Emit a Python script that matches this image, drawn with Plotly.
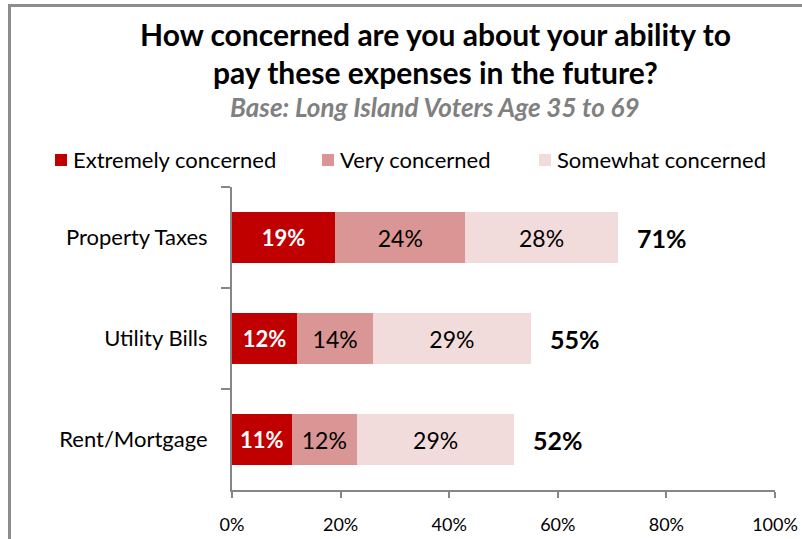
import plotly.graph_objects as go

# Survey results: share of respondents by level of concern
categories = ["Property Taxes", "Utility Bills", "Rent/Mortgage"]
series_names = ["Extremely concerned", "Very concerned", "Somewhat concerned"]
extremely = [19, 12, 11]
very = [24, 14, 12]
somewhat = [28, 29, 29]
totals = [71, 55, 52]
x_ticks = [0, 20, 40, 60, 80, 100]
x_tick_labels = ["0%", "20%", "40%", "60%", "80%", "100%"]

colors = ["#C00000", "#D99694", "#F2DCDB"]
label_colors = ["white", "black", "black"]
label_weights = ["bold", "normal", "normal"]
label_sizes = [22, 23, 23]
FONT = "Lato"
AXIS_GREY = "#868686"

W, H = 802, 539
L, R, T, B = 232, 775, 187, 490


def px(x):
    return (x - L) / (R - L)


def py(y):
    return (B - y) / (B - T)


fig = go.Figure()
for name, vals, col, lc, lw, ls in zip(series_names, [extremely, very, somewhat],
                                       colors, label_colors, label_weights, label_sizes):
    fig.add_trace(go.Bar(
        y=categories, x=vals, name=name, orientation="h",
        marker=dict(color=col, line=dict(width=0)),
        width=0.5,
        text=[f"{v}%" for v in vals],
        textposition="inside", insidetextanchor="middle",
        constraintext="none",
        textfont=dict(family=FONT, size=ls, color=lc, weight=lw),
        showlegend=False, hoverinfo="skip",
    ))

# Totals to the right of each stacked bar
for cat, tot in zip(categories, totals):
    fig.add_annotation(x=tot, y=cat, xref="x", yref="y", text=f"{tot}%",
                       showarrow=False, xanchor="left", xshift=17,
                       font=dict(family=FONT, size=25, color="black", weight="bold"))

# Title and subtitle
fig.add_annotation(x=px(435), y=py(34), xref="paper", yref="paper",
                   text="How concerned are you about your ability to",
                   showarrow=False, xanchor="center", yanchor="middle",
                   font=dict(family=FONT, size=30, color="black", weight="bold"))
fig.add_annotation(x=px(435), y=py(72), xref="paper", yref="paper",
                   text="pay these expenses in the future?",
                   showarrow=False, xanchor="center", yanchor="middle",
                   font=dict(family=FONT, size=30, color="black", weight="bold"))
fig.add_annotation(x=px(435), y=py(107), xref="paper", yref="paper",
                   text="<i>Base: Long Island Voters Age 35 to 69</i>",
                   showarrow=False, xanchor="center", yanchor="middle",
                   font=dict(family=FONT, size=26, color="#808080", weight="bold"))

# Legend built from the series names and colours
legend_x = [55, 322, 539]
for name, col, lx in zip(series_names, colors, legend_x):
    fig.add_shape(type="rect", xref="paper", yref="paper",
                  x0=px(lx), x1=px(lx + 12), y0=py(166), y1=py(154),
                  fillcolor=col, line=dict(width=0))
    fig.add_annotation(x=px(lx + 16), y=py(160), xref="paper", yref="paper",
                       text=name, showarrow=False, xanchor="left", yanchor="middle",
                       font=dict(family=FONT, size=22, color="black"))

# Outer frame (left and top edges)
fig.add_shape(type="path", xref="paper", yref="paper",
              path=f"M {px(9.5)},{py(560)} L {px(9.5)},{py(5.5)} L {px(820)},{py(5.5)}",
              line=dict(color="#8c8c8c", width=3))

fig.update_layout(
    barmode="stack",
    width=W, height=H,
    margin=dict(l=L, r=W - R, t=T, b=H - B, pad=0, autoexpand=False),
    paper_bgcolor="white", plot_bgcolor="white",
    xaxis=dict(range=[0, 100], tickvals=x_ticks, ticktext=x_tick_labels,
               showgrid=False, zeroline=False,
               showline=True, linecolor=AXIS_GREY, linewidth=2,
               ticks="outside", ticklen=6, tickwidth=2, tickcolor=AXIS_GREY,
               tickfont=dict(family=FONT, size=18, color="black"),
               ticklabelstandoff=11),
    yaxis=dict(categoryorder="array", categoryarray=categories,
               autorange="reversed",
               showgrid=False, zeroline=False,
               showline=True, linecolor=AXIS_GREY, linewidth=2,
               ticks="outside", ticklen=9, tickwidth=2, tickcolor=AXIS_GREY,
               tickson="boundaries",
               tickfont=dict(family=FONT, size=22, color="black"),
               ticklabelstandoff=18),
)

fig.write_html("out.html")
